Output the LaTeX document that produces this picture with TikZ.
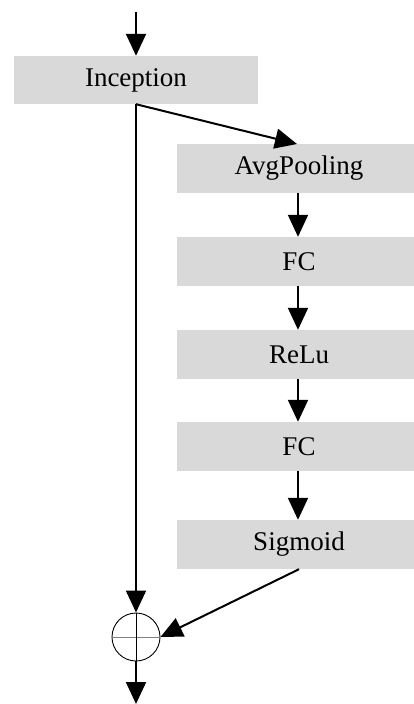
\documentclass[tikz,border=0pt]{standalone}
\usepackage{fontspec}
\setmainfont{Liberation Serif}
\usetikzlibrary{arrows.meta}
\begin{document}
\begin{tikzpicture}[x=1pt,y=1pt,
  blk/.style={fill={rgb,255:red,217;green,217;blue,217}, minimum width=244pt, minimum height=49pt, inner sep=0pt, font=\fontsize{27}{30}\selectfont},
  arr/.style={line width=2pt, -{Triangle[length=22pt,width=20pt]}},
  sumc/.style={circle, draw, line width=0.9pt, minimum size=48pt, inner sep=0pt}]
\useasboundingbox (0,0) rectangle (414,-704);
\begin{scope}
\clip (0,0) rectangle (414,-704);
\node[blk, minimum height=48pt] (inc) at (136,-80) {Inception};
\node[blk] (avg) at (299,-168.5) {AvgPooling};
\node[blk] (fc1) at (299,-261.5) {FC};
\node[blk] (relu) at (299,-354.5) {ReLu};
\node[blk] (fc2) at (299,-446.5) {FC};
\node[blk] (sig) at (299,-544.5) {Sigmoid};
\end{scope}
\node[sumc] (sum) at (136,-637) {};
\draw[gray, line width=0.9pt] (sum.west) -- (sum.east);
\draw[line width=0.9pt] (sum.north) -- (sum.south);
\coordinate (top) at (136,-12);
\coordinate (bot) at (136,-704);
\draw[arr] (top) -- (inc.north);
\draw[arr] (inc.south) -- (297,-144);
\draw[arr] (avg.south -| 298,0) -- (fc1.north -| 298,0);
\draw[arr] (fc1.south -| 298,0) -- (relu.north -| 298,0);
\draw[arr] (relu.south -| 298,0) -- (fc2.north -| 298,0);
\draw[arr] (fc2.south -| 298,0) -- (sig.north -| 298,0);
\draw[arr] (inc.south) -- (sum.north);
\draw[arr] (sig.south) -- (sum.east);
\draw[arr] (sum.south) -- (bot);
\end{tikzpicture}
\end{document}
